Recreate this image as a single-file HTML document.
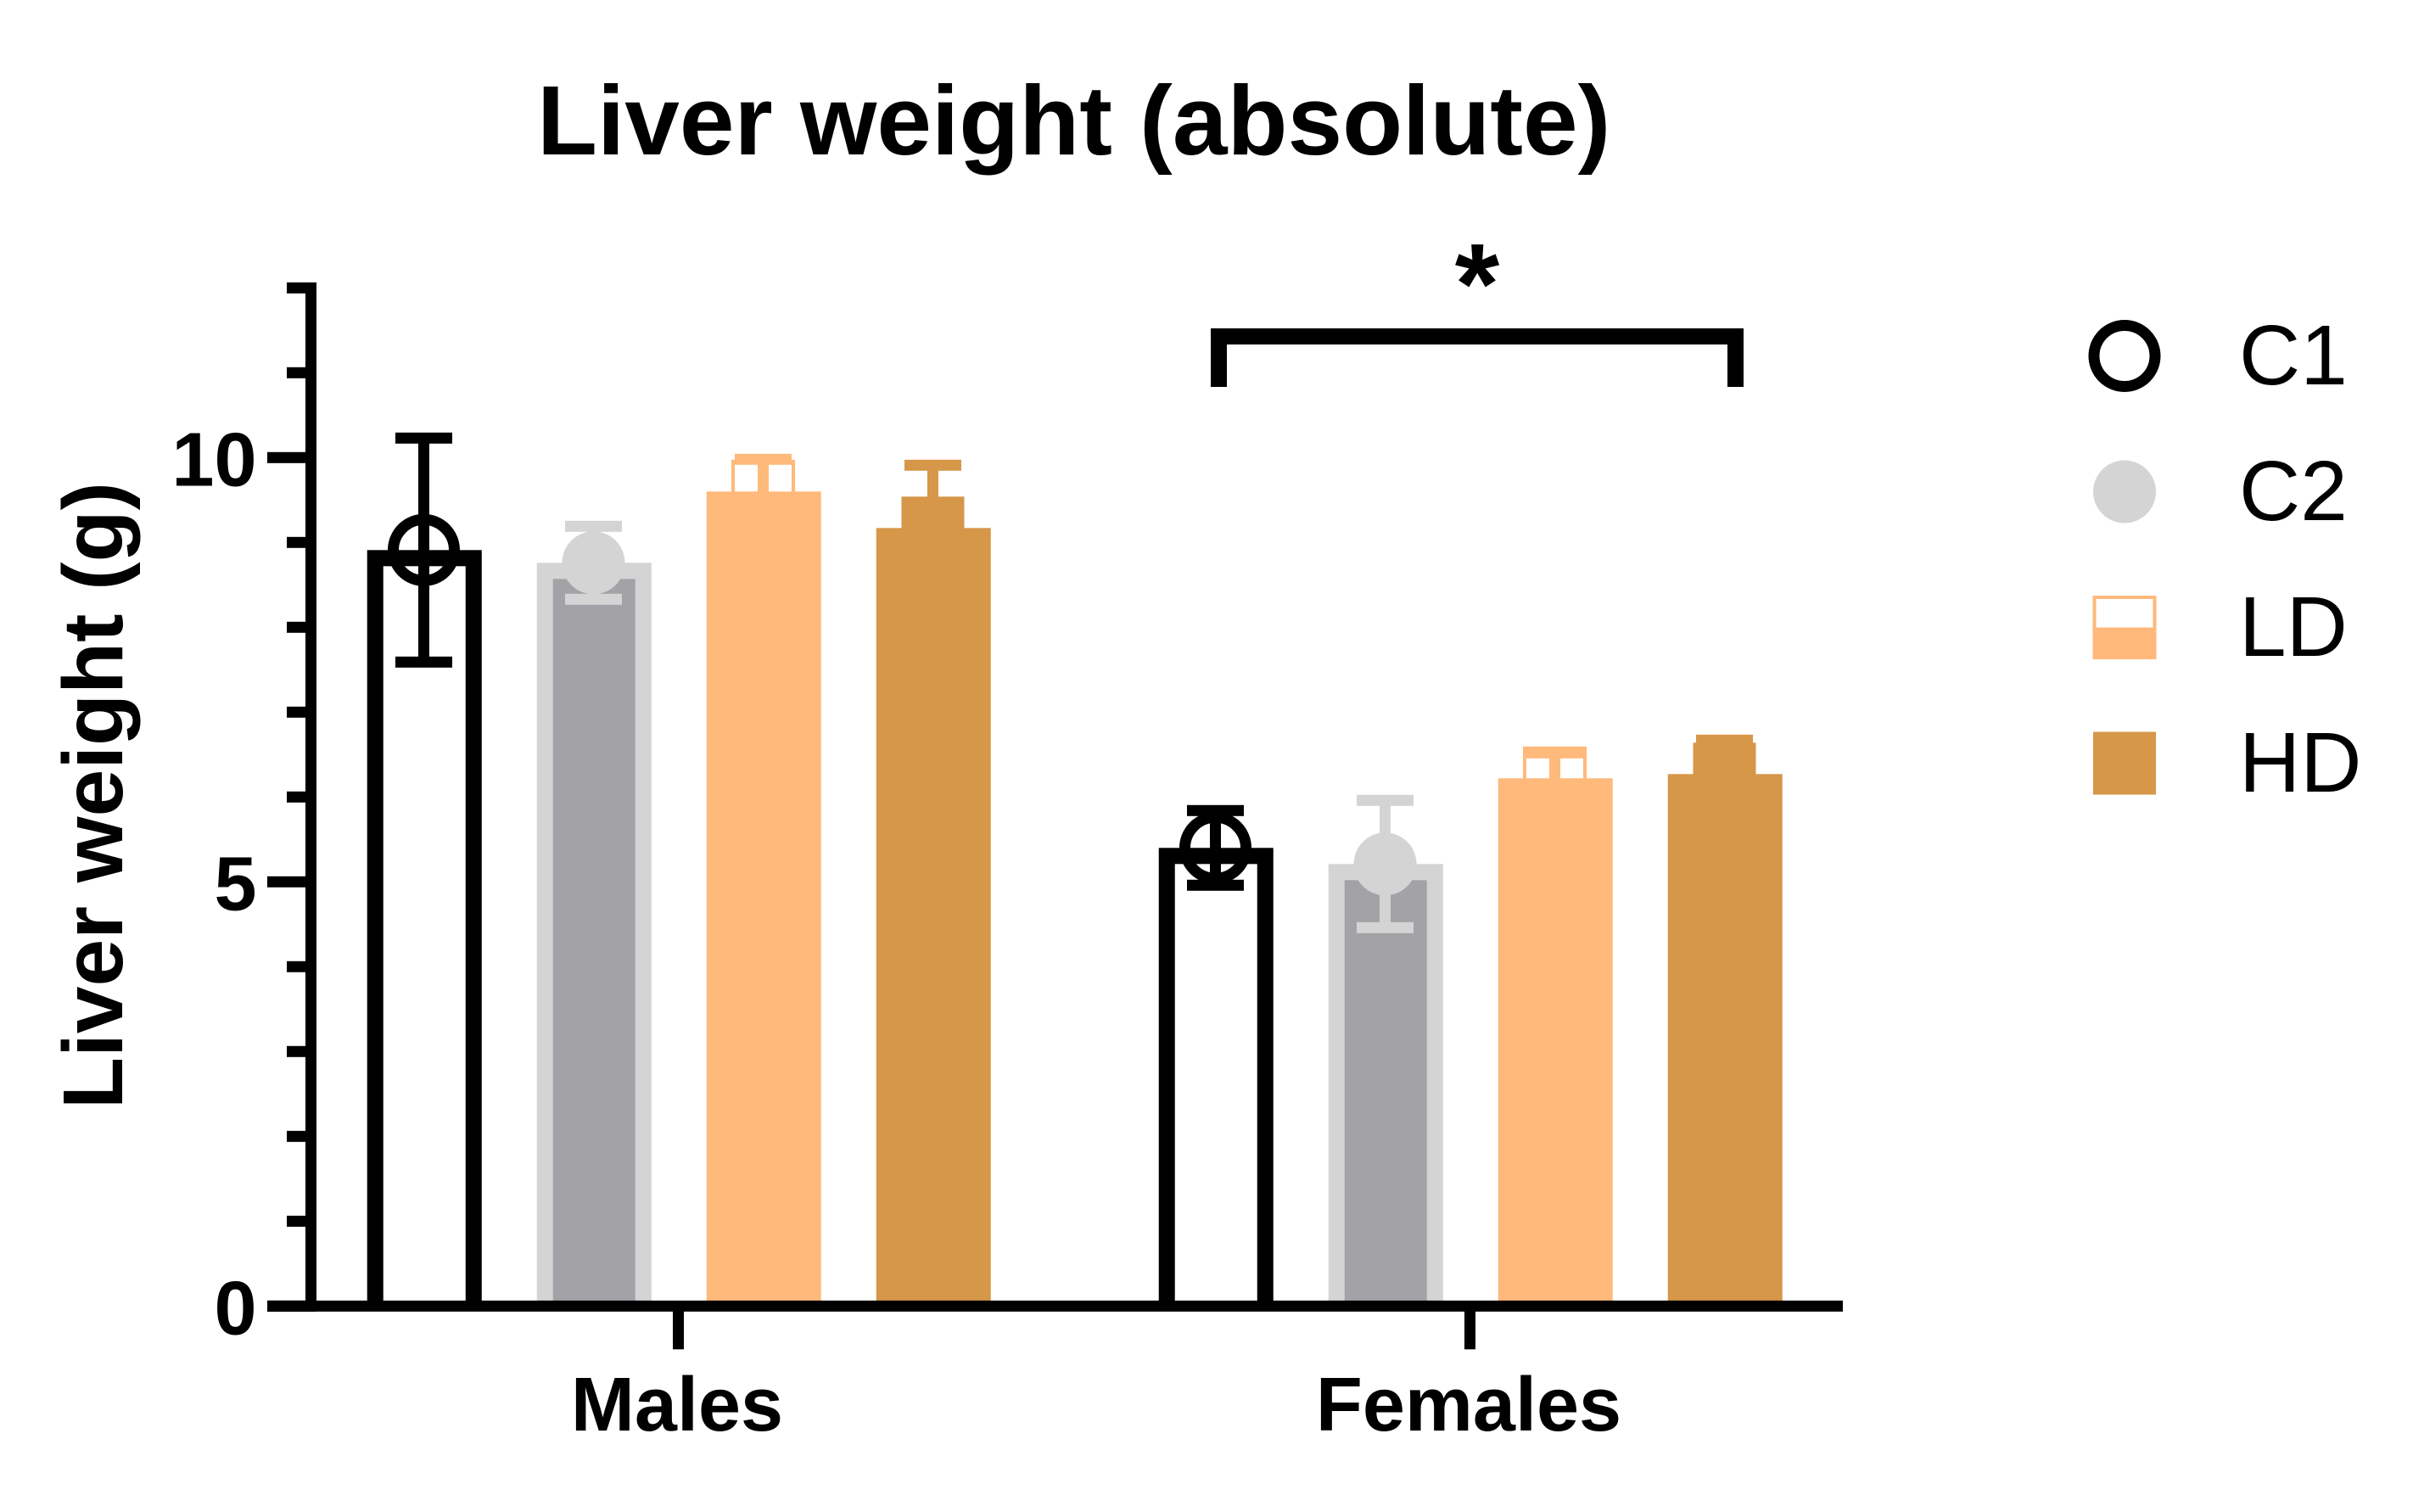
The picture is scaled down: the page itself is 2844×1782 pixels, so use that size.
<!DOCTYPE html>
<html lang="en">
<head>
<meta charset="utf-8">
<title>Liver weight (absolute)</title>
<style>
html,body{margin:0;padding:0;background:#fff;}
svg{display:block;}
text{font-family:"Liberation Sans",Arial,sans-serif;fill:#000;}
</style>
</head>
<body>
<svg id="chart" xmlns="http://www.w3.org/2000/svg" width="2844" height="1782" viewBox="0 0 2844 1782">
  <rect x="0" y="0" width="2844" height="1782" fill="#ffffff"/>
  <text x="633" y="182" font-size="116.2" font-weight="700">Liver weight (absolute)</text>
  <text transform="translate(144,1307) rotate(-90)" font-size="100" font-weight="700">Liver weight (g)</text>
  <g id="bars"></g>
  <g id="axes"></g>
  <g id="marks"></g>
  <g id="bracket">
    <rect x="1427" y="387" width="628" height="19" fill="#000"/>
    <rect x="1427" y="387" width="19" height="69" fill="#000"/>
    <rect x="2036" y="387" width="19" height="69" fill="#000"/>
    <text x="1741" y="381" font-size="135" font-weight="700" text-anchor="middle">*</text>
  </g>
  <g id="legend"></g>
</svg>
<script>
var categories = ['Males', 'Females'];
var seriesNames = ['C1', 'C2', 'LD', 'HD'];
var valuesC1 = [8.91, 5.40];
var valuesC2 = [8.76, 5.21];
var valuesLD = [9.60, 6.22];
var valuesHD = [9.17, 6.27];
var errorsC1 = [1.32, 0.44];
var errorsC2 = [0.43, 0.75];
var errorsLD = [0.38, 0.30];
var errorsHD = [0.74, 0.40];
var yTicks = [0, 1, 2, 3, 4, 5, 6, 7, 8, 9, 10, 11, 12];
var yTickLabels = ['0', '5', '10'];

var seriesValues = [valuesC1, valuesC2, valuesLD, valuesHD];
var seriesErrors = [errorsC1, errorsC2, errorsLD, errorsHD];

var NS = 'http://www.w3.org/2000/svg';
var BLACK = '#000000', LIGHT = '#d4d4d4', DARK = '#a3a2a6', ORANGE = '#ffb97b', BROWN = '#d69749';
var outlineColors = [BLACK, LIGHT, ORANGE, BROWN];
var fillColors = ['#ffffff', DARK, ORANGE, BROWN];

function yScale(v) { return 1539.3 - 100 * v; }
function groupCenter(g) { return 799.5 + 933 * g; }
function xScale(g, s) { return groupCenter(g) + (s - 1.5) * 200; }

function shape(parent, tag, attrs, name) {
  var el = document.createElementNS(NS, tag);
  for (var k in attrs) { el.setAttribute(k, attrs[k]); }
  
  
  parent.appendChild(el);
  return el;
}
function box(parent, x, y, w, h, fill, name) {
  return shape(parent, 'rect', { x: x, y: y, width: w, height: h, fill: fill }, name);
}
function label(parent, txt, x, y, size, weight, anchor, name) {
  var el = shape(parent, 'text', { x: x, y: y, 'font-size': size, 'font-weight': weight, 'text-anchor': anchor }, name);
  el.textContent = txt;
  return el;
}
function marker(parent, s, cx, cy, name) {
  if (s === 0) {
    shape(parent, 'circle', { cx: cx, cy: cy, r: 36, fill: 'none', stroke: BLACK, 'stroke-width': 13 }, name);
  } else if (s === 1) {
    shape(parent, 'circle', { cx: cx, cy: cy, r: 37, fill: LIGHT }, name);
  } else if (s === 2) {
    box(parent, cx - 37.5, cy - 37.5, 75, 75, ORANGE, name + '-outer');
    box(parent, cx - 33.5, cy - 33.5, 67, 33.5, '#ffffff', name + '-empty-half');
  } else {
    box(parent, cx - 37, cy - 37, 74, 74, BROWN, name);
  }
}

var barsLayer = document.getElementById('bars');
var axesLayer = document.getElementById('axes');
var marksLayer = document.getElementById('marks');
var legendLayer = document.getElementById('legend');
var BAR_W = 135, BAR_STROKE = 19, BAR_SHIFT = 0.75, BASE = yScale(0);

categories.forEach(function (cat, g) {
  seriesNames.forEach(function (sn, s) {
    var cx = xScale(g, s), v = seriesValues[s][g], e = seriesErrors[s][g];
    var top = yScale(v), base = cat.toLowerCase() + '-' + sn.toLowerCase();
    var bx = cx + BAR_SHIFT - BAR_W / 2;
    box(barsLayer, bx, top, BAR_W, BASE - top, outlineColors[s], 'bar-' + base);
    box(barsLayer, bx + BAR_STROKE, top + BAR_STROKE, BAR_W - 2 * BAR_STROKE, BASE - top - BAR_STROKE, fillColors[s], 'bar-fill-' + base);
    marker(marksLayer, s, cx, top, 'marker-' + base);
    var hi = yScale(v + e), lo = yScale(v - e);
    box(marksLayer, cx - 6.5, hi, 13, lo - hi, outlineColors[s], 'error-stem-' + base);
    box(marksLayer, cx - 33.5, hi - 6.5, 67, 13, outlineColors[s], 'error-cap-upper-' + base);
    box(marksLayer, cx - 33.5, lo - 6.5, 67, 13, outlineColors[s], 'error-cap-lower-' + base);
  });
  var gx = groupCenter(g);
  box(axesLayer, gx - 6.5, BASE + 6, 13, 45, BLACK, 'x-tick-' + cat.toLowerCase());
  label(axesLayer, cat, gx - 1.5, 1686, 90, 700, 'middle', 'x-label-' + cat.toLowerCase());
});

box(axesLayer, 360, yScale(12) - 6.5, 13, yScale(0) - yScale(12) + 13, BLACK, 'y-axis-line');
box(axesLayer, 315, BASE - 6.5, 1857, 13, BLACK, 'x-axis-line');

yTicks.forEach(function (t) {
  var major = t % 5 === 0;
  var left = major ? 315 : 338;
  box(axesLayer, left, yScale(t) - 6.5, 360 - left, 13, BLACK, 'y-tick-' + t);
});
yTickLabels.forEach(function (t) {
  label(axesLayer, t, 302.5, yScale(Number(t)) + 33, 90, 700, 'end', 'y-tick-label-' + t);
});

seriesNames.forEach(function (sn, s) {
  var cy = 419.5 + 160 * s;
  marker(legendLayer, s, 2504, cy, 'legend-marker-' + sn.toLowerCase());
  label(legendLayer, sn, 2639, 453 + 160 * s, 100, 400, 'start', 'legend-label-' + sn.toLowerCase());
});
</script>
</body>
</html>
